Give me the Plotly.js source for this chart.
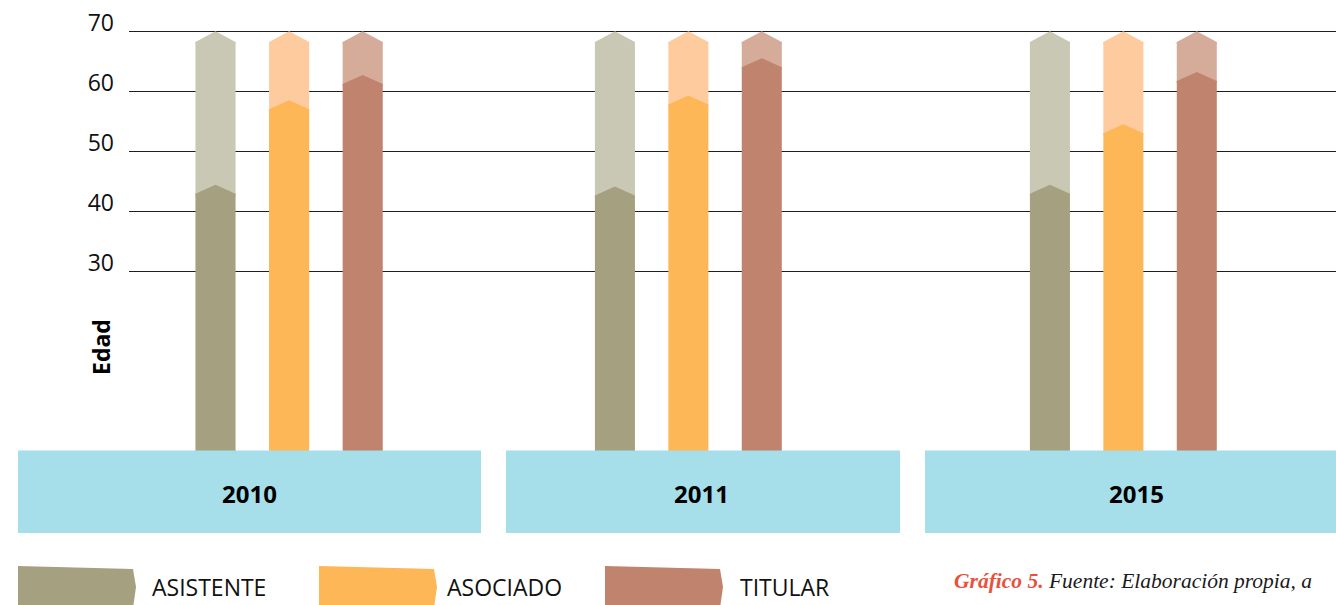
<!DOCTYPE html>
<html>
<head>
<meta charset="utf-8">
<script src="https://cdn.plot.ly/plotly-3.0.1.min.js"></script>
<style>html,body{margin:0;padding:0;background:#fff;}#chart{width:1336px;height:605px;}</style>
</head>
<body>
<div id="chart"></div>
<script>
// ---- data ----
const years = ['2010', '2011', '2015'];
const roles = ['ASISTENTE', 'ASOCIADO', 'TITULAR'];
const asistente = [44.4, 44.1, 44.4];
const asociado = [58.5, 59.3, 54.5];
const titular = [62.7, 65.5, 63.2];
const scaleMax = 70;
const yTicks = [30, 40, 50, 60, 70];
const axisTitle = 'Edad';
const captionBold = 'Gráfico 5.';
const captionText = 'Fuente: Elaboración propia, a';

// ---- styles ----
const darkColors = ['#a5a07f', '#fdb757', '#c0836e'];
const lightColors = ['#c9c8b4', '#fecb9f', '#d5ab99'];
const bandColor = '#a6dee9';
const W = 1336, H = 605;
const px = x => x / W;
const py = y => 1 - y / H;
const DD = 1.5;   // chevron depth of value part
const DL = 1.8;   // chevron depth of top part
const BW = 0.545; // bar width (category units)
const PPU = 5.996; // pixels per year of age
const yTop = scaleMax + 1;
const yDomain = [py(451), py(451 - yTop * PPU)];
const groupDomains = [[178.7, 399.5], [578.2, 798.5], [1013.2, 1233.5]];
const bands = [[18, 481], [506, 900], [925, 1340]];
const yearLabelX = [249, 702, 1136];

const roleIdx = roles.map((_, i) => i);
const seriesByYear = years.map((_, k) => [asistente[k], asociado[k], titular[k]]);

const traces = [{x: [], y: [], xaxis: 'x', yaxis: 'y', type: 'scatter', showlegend: false, hoverinfo: 'skip'}];

const layout = {
  width: W, height: H,
  margin: {l: 0, r: 0, t: 0, b: 0},
  paper_bgcolor: '#ffffff',
  plot_bgcolor: 'rgba(0,0,0,0)',
  showlegend: false,
  barmode: 'overlay',
  xaxis: {domain: [px(129), 1], range: [0, 1], anchor: 'y', showgrid: false, zeroline: false,
          showticklabels: false, ticks: '', showline: false, fixedrange: true},
  yaxis: {domain: yDomain, range: [0, yTop], anchor: 'x', tickvals: yTicks,
          showgrid: true, gridcolor: '#1e1e1e', gridwidth: 1.2, zeroline: false, showline: false,
          ticks: '', tickfont: {family: 'Open Sans, sans-serif', size: 23, color: '#111'},
          ticklabelshift: -8, ticklabelstandoff: 14, fixedrange: true},
  shapes: [],
  annotations: []
};

years.forEach((yr, k) => {
  const xa = 'x' + (k + 2), ya = 'y' + (k + 2);
  const vals = seriesByYear[k];
  layout['xaxis' + (k + 2)] = {domain: [px(groupDomains[k][0]), px(groupDomains[k][1])], range: [-0.5, 2.5],
    anchor: ya, visible: false, fixedrange: true};
  layout['yaxis' + (k + 2)] = {domain: yDomain, range: [0, yTop], anchor: xa, visible: false, fixedrange: true};

  traces.push({type: 'bar', x: roleIdx, y: vals.map(v => v - DD), width: BW,
    marker: {color: darkColors, line: {width: 0}}, xaxis: xa, yaxis: ya, hoverinfo: 'skip', showlegend: false});
  traces.push({type: 'bar', x: roleIdx, base: vals.map(v => v - DD), y: vals.map(v => (scaleMax - DL) - (v - DD)), width: BW,
    marker: {color: lightColors, line: {width: 0}}, xaxis: xa, yaxis: ya, hoverinfo: 'skip', showlegend: false});

  roleIdx.forEach(r => {
    const h = BW / 2, v = vals[r];
    traces.push({type: 'scatter', mode: 'none', fill: 'toself', fillcolor: lightColors[r],
      x: [r - h, r - h, r, r + h, r + h],
      y: [scaleMax - DL - 0.3, scaleMax - DL, scaleMax, scaleMax - DL, scaleMax - DL - 0.3],
      xaxis: xa, yaxis: ya, hoverinfo: 'skip', showlegend: false});
    traces.push({type: 'scatter', mode: 'none', fill: 'toself', fillcolor: darkColors[r],
      x: [r - h, r - h, r, r + h, r + h],
      y: [v - DD - 0.3, v - DD, v, v - DD, v - DD - 0.3],
      xaxis: xa, yaxis: ya, hoverinfo: 'skip', showlegend: false});
  });

  // year band
  layout.shapes.push({type: 'rect', xref: 'paper', yref: 'paper',
    x0: px(bands[k][0]), x1: px(bands[k][1]), y0: py(533), y1: py(450.5),
    fillcolor: bandColor, line: {width: 0}, layer: 'above'});
  layout.annotations.push({text: '<b>' + yr + '</b>', xref: 'paper', yref: 'paper',
    x: px(yearLabelX[k]), y: py(493), xanchor: 'center', yanchor: 'middle', showarrow: false,
    font: {family: 'Open Sans, sans-serif', size: 24, color: '#000'}});
});

// axis title
layout.annotations.push({text: '<b>' + axisTitle + '</b>', xref: 'paper', yref: 'paper',
  x: px(101), y: py(347), textangle: -90, xanchor: 'center', yanchor: 'middle', showarrow: false,
  font: {family: 'Open Sans, sans-serif', size: 23, color: '#000'}});

// custom legend
const legendSwatchX = [18, 319, 605];
const legendTextX = [150, 445, 738];
roles.forEach((name, i) => {
  const x0 = legendSwatchX[i], x1 = x0 + 115;
  const path = 'M ' + px(x0) + ',' + py(566) + ' L ' + px(x1) + ',' + py(569) + ' L ' + px(x1 + 3) + ',' + py(587) +
    ' L ' + px(x1) + ',' + py(608) + ' L ' + px(x0) + ',' + py(608) + ' Z';
  layout.shapes.push({type: 'path', xref: 'paper', yref: 'paper', path: path, fillcolor: darkColors[i], line: {width: 0}});
  layout.annotations.push({text: name, xref: 'paper', yref: 'paper', x: px(legendTextX[i]), y: py(587),
    xanchor: 'left', yanchor: 'middle', showarrow: false,
    font: {family: 'Open Sans, sans-serif', size: 23, color: '#111'}});
});

// caption
layout.annotations.push({
  text: '<span style="color:#e8513c"><b><i>' + captionBold + '</i></b></span> <i>' + captionText + '</i>',
  xref: 'paper', yref: 'paper', x: px(952), y: py(581), xanchor: 'left', yanchor: 'middle', showarrow: false,
  font: {family: 'Liberation Serif, serif', size: 21.5, color: '#1a1a1a'}});

Plotly.newPlot('chart', traces, layout, {staticPlot: true, displayModeBar: false});
</script>
</body>
</html>
